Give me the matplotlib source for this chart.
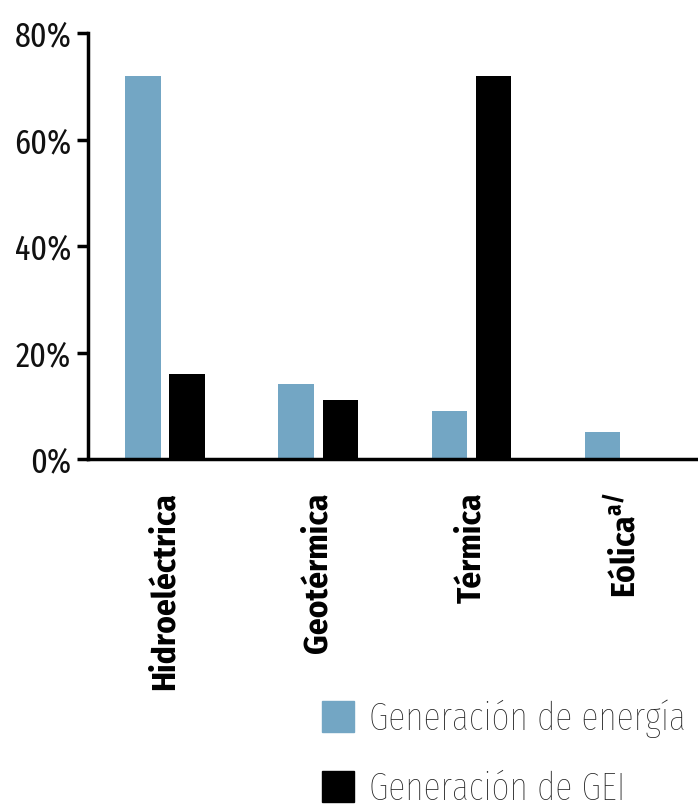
import matplotlib
matplotlib.use("Agg")
import matplotlib.pyplot as plt
from matplotlib.patches import Patch
import numpy as np

# data
categories = ["Hidroeléctrica", "Geotérmica", "Térmica", "Eólica$^{\\mathregular{a/}}$"]
energia = [72, 14, 9, 5]
gei = [16, 11, 72, 0]
yticks = [0, 20, 40, 60, 80]
ytick_labels = ["0%", "20%", "40%", "60%", "80%"]
series_labels = ["Generación de energía", "Generación de GEI"]

plt.rcParams["font.family"] = ["Fira Sans Condensed", "DejaVu Sans"]
plt.rcParams["mathtext.fontset"] = "custom"
plt.rcParams["mathtext.rm"] = "Fira Sans Condensed"

fig = plt.figure(figsize=(6.98, 8.05), dpi=100)
ax = fig.add_axes([0.126, 0.4298, 0.874, 0.5292])

x = np.arange(len(categories))
w = 0.23
off = 0.144
ax.bar(x - off, energia, width=w, color="#73a6c4", label=series_labels[0])
ax.bar(x + off, gei, width=w, color="black", label=series_labels[1])

ax.set_xlim(-0.503, 3.48)
ax.set_ylim(0, 80)
ax.set_yticks(yticks)
ax.set_yticklabels(ytick_labels, fontsize=25, family="Fira Sans Extra Condensed",
                   fontweight="normal", color="#111111")
ax.tick_params(axis="y", direction="out", length=8, width=2.5, pad=4)
ax.tick_params(axis="x", length=0, pad=24)
ax.set_xticks(x)
ax.set_xticklabels(categories, rotation=90, fontsize=24, fontweight="bold",
                   va="top", ha="center")

for s in ["top", "right"]:
    ax.spines[s].set_visible(False)
for s in ["left", "bottom"]:
    ax.spines[s].set_linewidth(2.5)

handles = [Patch(color="#73a6c4"), Patch(color="black")]
fig.legend(handles, series_labels, loc="lower right", bbox_to_anchor=(1.033, -0.047),
           frameon=False, handlelength=0.8, handleheight=0.85,
           handletextpad=0.4, labelspacing=0.85, labelcolor="#222222",
           prop={"family": "Fira Sans Extra Condensed", "weight": "light", "size": 28})

fig.savefig("out.png", dpi=100)
